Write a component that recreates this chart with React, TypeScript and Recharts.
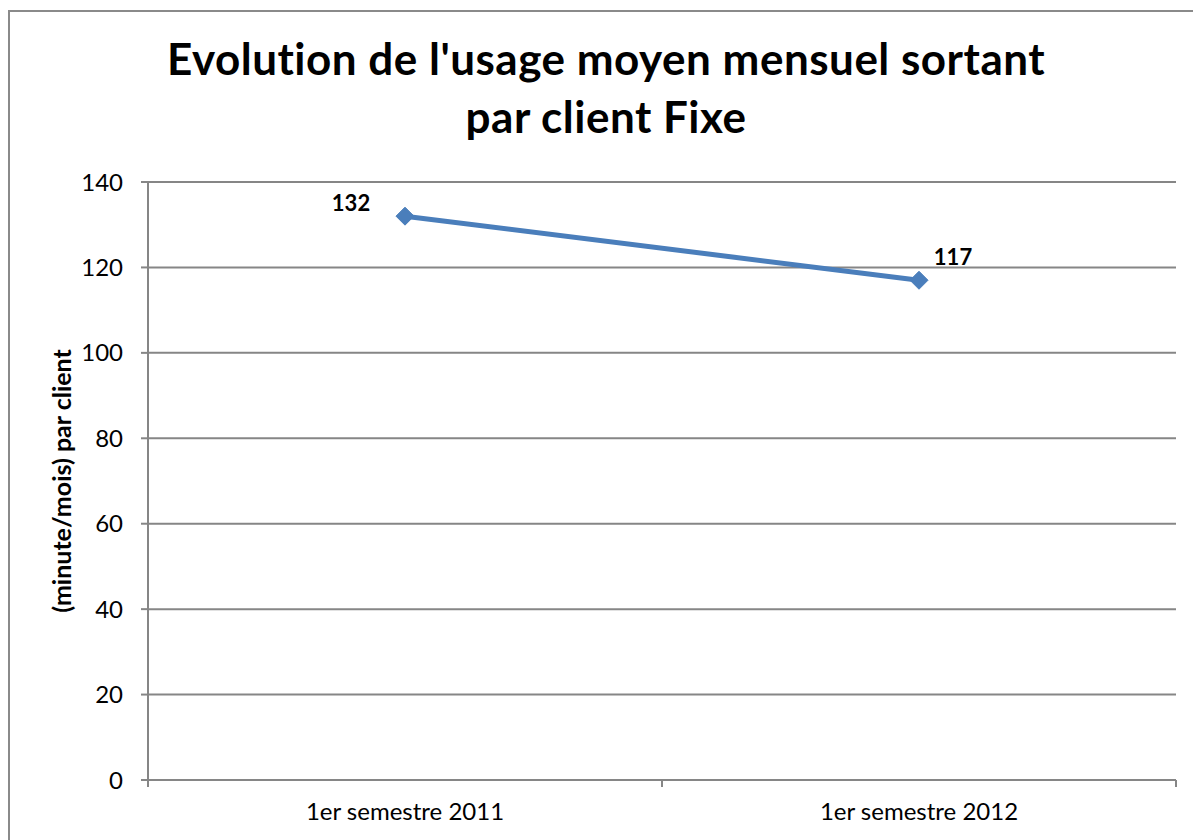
import React from "react";
import { LineChart, Line, XAxis, YAxis, CartesianGrid } from "recharts";

const categories = ["1er semestre 2011", "1er semestre 2012"];
const usage = [132, 117];
const yTicks = [0, 20, 40, 60, 80, 100, 120, 140];
const titleLines = ["Evolution de l'usage moyen mensuel sortant", "par client Fixe"];
const yAxisTitle = "(minute/mois) par client";

const data = categories.map((c, i) => ({ pos: i + 0.5, cat: c, value: usage[i] }));
const xTicks = [0, 0.5, 1, 1.5, 2];

const FONT = "Lato, 'Open Sans', sans-serif";
const GRID = "#868686";
const BLUE = "#4A7EBB";
const NOLIG: any = { fontVariantLigatures: "none" };

const XTick = (props: any) => {
  const { x, y, payload } = props;
  const v = payload.value;
  if (Number.isInteger(v)) {
    return <line x1={x} x2={x} y1={y} y2={y + 7} stroke={GRID} strokeWidth={2} />;
  }
  const idx = Math.floor(v);
  return (
    <text x={x} y={y + 40} textAnchor="middle" fontFamily={FONT} fontSize={24} fill="#000" style={NOLIG}>
      {categories[idx]}
    </text>
  );
};

const Diamond = (props: any) => {
  const { cx, cy } = props;
  if (cx == null || cy == null) return null;
  const r = 9;
  return (
    <polygon
      points={`${cx},${cy - r} ${cx + r},${cy} ${cx},${cy + r} ${cx - r},${cy}`}
      fill={BLUE}
      stroke={BLUE}
      strokeWidth={1}
    />
  );
};

const ValueLabel = (props: any) => {
  const { x, y, value, index } = props;
  const dx = index === 0 ? -54 : 34;
  const dy = index === 0 ? -5 : -15;
  return (
    <text x={x + dx} y={y + dy} textAnchor="middle" fontFamily={FONT} fontWeight="bold" fontSize={22} fill="#000">
      {value}
    </text>
  );
};

export default function App() {
  return (
    <div style={{ position: "absolute", left: 0, top: 0, width: 1193, height: 840, overflow: "hidden", background: "#fff" }}>
      <div
        style={{
          position: "absolute",
          left: 8,
          top: 10,
          width: 1250,
          height: 900,
          border: "2px solid #8a8a8a",
        }}
      />
      <div
        style={{
          position: "absolute",
          left: 0,
          top: 29,
          width: 1212,
          textAlign: "center",
          fontFamily: FONT,
          fontWeight: "bold",
          fontSize: 44,
          letterSpacing: 0.5,
          lineHeight: "58px",
          color: "#000",
          fontVariantLigatures: "none",
        }}
      >
        {titleLines.map((t, i) => (
          <div key={i}>{t}</div>
        ))}
      </div>
      <div style={{ position: "absolute", left: 0, top: 0 }}>
        <LineChart width={1193} height={840} data={data} margin={{ top: 182, right: 17, bottom: 0, left: 0 }}>
          <CartesianGrid vertical={false} stroke={GRID} strokeWidth={2} />
          <XAxis
            dataKey="pos"
            type="number"
            domain={[0, 2]}
            ticks={xTicks}
            interval={0}
            height={60}
            tickSize={0}
            tickMargin={0}
            tickLine={false}
            axisLine={{ stroke: GRID, strokeWidth: 2 }}
            tick={<XTick />}
          />
          <YAxis
            type="number"
            domain={[0, 140]}
            ticks={yTicks}
            interval={0}
            width={148}
            tickSize={7}
            tickMargin={18}
            tickLine={{ stroke: GRID, strokeWidth: 2 }}
            axisLine={{ stroke: GRID, strokeWidth: 2 }}
            tick={{ fontFamily: FONT, fontSize: 24, fill: "#000" }}
            label={(p: any) => {
              const vb = p.viewBox || {};
              const cx = (vb.x ?? 0) + 61;
              const cy = (vb.y ?? 0) + (vb.height ?? 0) / 2;
              return (
                <text
                  x={cx}
                  y={cy}
                  transform={`rotate(-90 ${cx} ${cy})`}
                  textAnchor="middle"
                  dominantBaseline="central"
                  fontFamily={FONT}
                  fontWeight="bold"
                  fontSize={25}
                  fill="#000"
                  style={NOLIG}
                >
                  {yAxisTitle}
                </text>
              );
            }}
          />
          <Line
            dataKey="value"
            stroke={BLUE}
            strokeWidth={5}
            isAnimationActive={false}
            dot={<Diamond />}
            activeDot={false}
            label={<ValueLabel />}
          />
        </LineChart>
      </div>
    </div>
  );
}
